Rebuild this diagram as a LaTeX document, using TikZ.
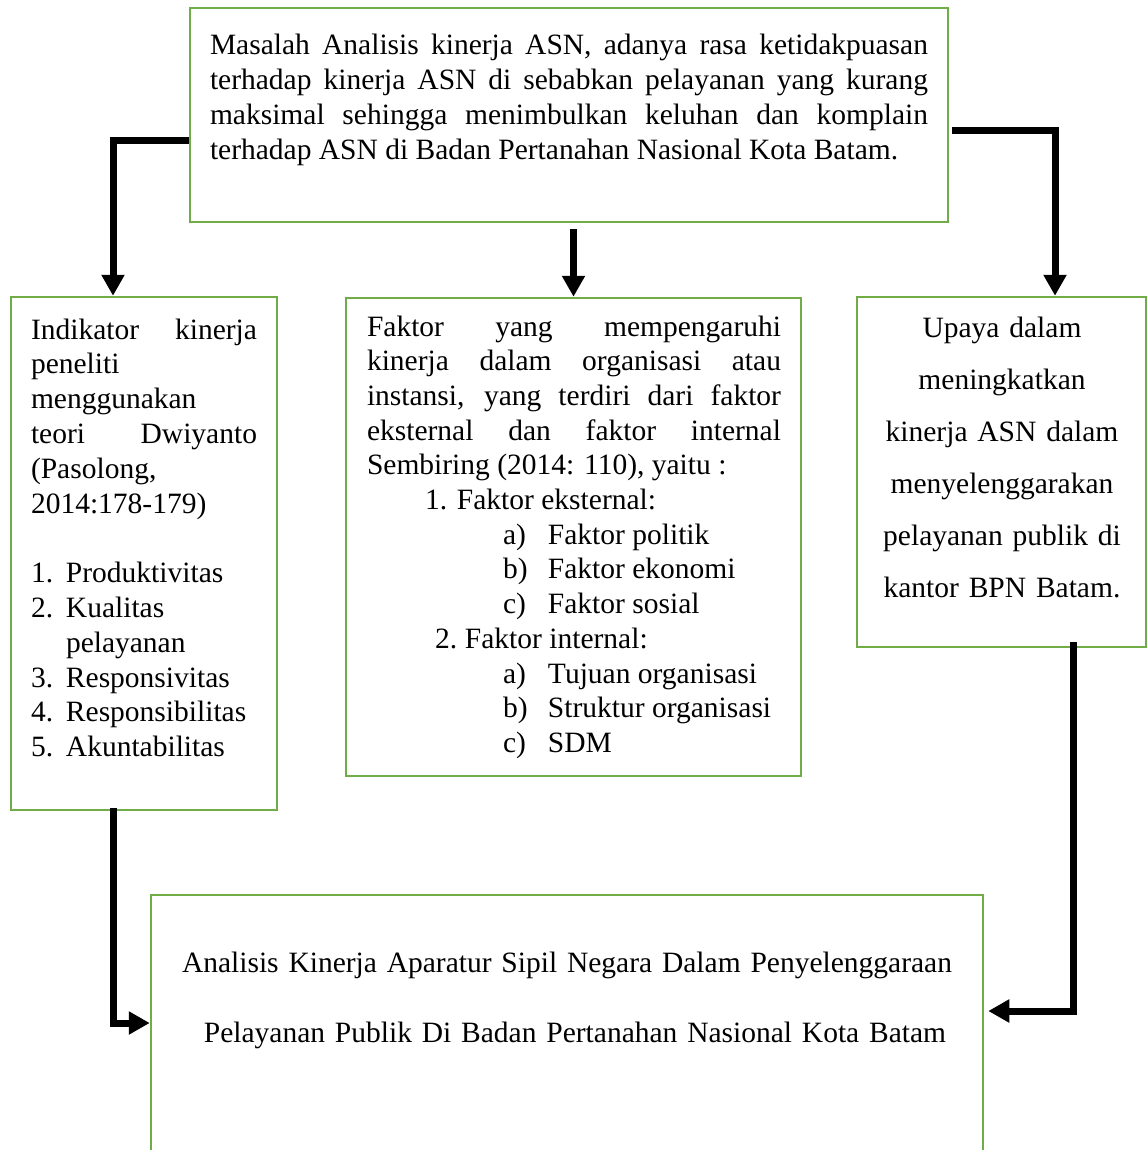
\documentclass[tikz,border=0pt]{standalone}
\usepackage{fontspec}
\setmainfont{Liberation Serif}
\usepackage{tikz}
\usetikzlibrary{positioning,arrows.meta}

\newcommand{\butir}[3]{\hspace*{#1}\makebox[#2][l]{#3}}

\begin{document}
\begin{tikzpicture}[x=1pt,y=1pt,yscale=-1,xscale=1,
  kotak/.style={draw,color={rgb, 255:red, 112; green, 173; blue, 71 },draw opacity=1,line width=2.5,inner sep=0,rectangle},
  teks/.style={inner sep=0,outer sep=0,text=black},
  panah/.style={color={rgb, 255:red, 0; green, 0; blue, 0 },line width=7,-{Triangle[width=22pt,length=21pt]}}]
\useasboundingbox (0,0) rectangle (1147,1150);

%Shape: Rectangle [id:masalah]
\node [kotak,minimum width=758,minimum height=214] (masalah) at (569,115) {};
%Shape: Rectangle [id:indikator]
\node [kotak,minimum width=266,minimum height=513] (indikator) at (144,553.5) {};
%Shape: Rectangle [id:faktor]
\node [kotak,minimum width=455,minimum height=478] (faktor) at (573.5,537) {};
%Shape: Rectangle [id:upaya]
\node [kotak,minimum width=289,minimum height=350] (upaya) at (1001.5,472) {};
%Shape: Rectangle [id:judul]
\node [kotak,minimum width=832,minimum height=270] (judul) at (567,1030) {};

%Text Node [id:masalahtxt]
\node [teks,anchor=base west,text width=718,align=justify,font=\fontsize{29.5}{35}\selectfont] (masalahtxt) at (210,55) {Masalah Analisis kinerja ASN, adanya rasa ketidakpuasan\linebreak terhadap kinerja ASN di sebabkan pelayanan yang kurang\linebreak maksimal sehingga menimbulkan keluhan dan komplain\linebreak terhadap ASN di Badan Pertanahan Nasional Kota Batam.};

%Text Node [id:indikatortxt]
\node [teks,anchor=base west,text width=226,align=left,font=\fontsize{29.5}{34.8}\selectfont] (indikatortxt) at (31,339) {Indikator\hfill kinerja\par peneliti\par menggunakan\par teori\hfill Dwiyanto\par (Pasolong,\par 2014:178-179)\par\vspace{34.8pt}
\hangindent=35pt\hangafter=1\butir{0pt}{35pt}{1.}Produktivitas\par
\hangindent=35pt\hangafter=1\butir{0pt}{35pt}{2.}Kualitas pelayanan\par
\hangindent=35pt\hangafter=1\butir{0pt}{35pt}{3.}Responsivitas\par
\hangindent=35pt\hangafter=1\butir{0pt}{35pt}{4.}Responsibilitas\par
\hangindent=35pt\hangafter=1\butir{0pt}{35pt}{5.}Akuntabilitas};

%Text Node [id:faktortxt]
\node [teks,anchor=base west,text width=414,align=justify,font=\fontsize{29.5}{34.7}\selectfont] (faktortxt) at (367,336) {Faktor yang mempengaruhi\linebreak kinerja dalam organisasi atau\linebreak instansi, yang terdiri dari faktor\linebreak eksternal dan faktor internal\linebreak Sembiring (2014: 110), yaitu :\par
\butir{58pt}{32pt}{1.}Faktor eksternal:\par
\butir{136pt}{45pt}{a)}Faktor politik\par
\butir{136pt}{45pt}{b)}Faktor ekonomi\par
\butir{136pt}{45pt}{c)}Faktor sosial\par
\butir{68pt}{30pt}{2.}Faktor internal:\par
\butir{136pt}{45pt}{a)}Tujuan organisasi\par
\butir{136pt}{45pt}{b)}Struktur organisasi\par
\butir{136pt}{45pt}{c)}SDM};

%Text Node [id:upayatxt]
\node [teks,anchor=base,text width=289,align=center,font=\fontsize{29.5}{52}\selectfont] (upayatxt) at (1002,337) {Upaya dalam\\ meningkatkan\\ kinerja ASN dalam\\ menyelenggarakan\\ pelayanan publik di\\ kantor BPN Batam.};

%Text Node [id:judultxt]
\node [teks,anchor=base,text width=832,align=center,font=\fontsize{29.5}{70}\selectfont] (judultxt) at (567,972) {Analisis Kinerja Aparatur Sipil Negara Dalam Penyelenggaraan\\ \hspace*{16pt}Pelayanan Publik Di Badan Pertanahan Nasional Kota Batam};

%Straight Lines [id:masalah-indikator]
\draw [panah] (masalah.west |- 0,141) -| (indikator.north -| 113,0) ;

%Straight Lines [id:masalah-faktor]
\draw [panah,shorten <=6pt] (masalah.south -| faktor.north) -- (faktor.north) ;

%Straight Lines [id:masalah-upaya]
\draw [panah,shorten <=3pt] (masalah.east |- 0,131) -| (upaya.north -| 1055,0) ;

%Straight Lines [id:indikator-judul]
\draw [panah,shorten <=-3pt] (indikator.south -| 113,0) |- (judul.west |- 0,1023) ;

%Straight Lines [id:upaya-judul]
\draw [panah,shorten <=-6pt,shorten >=4pt] (upaya.south -| 1073,0) |- (judul.east |- 0,1011) ;

\end{tikzpicture}
\end{document}
